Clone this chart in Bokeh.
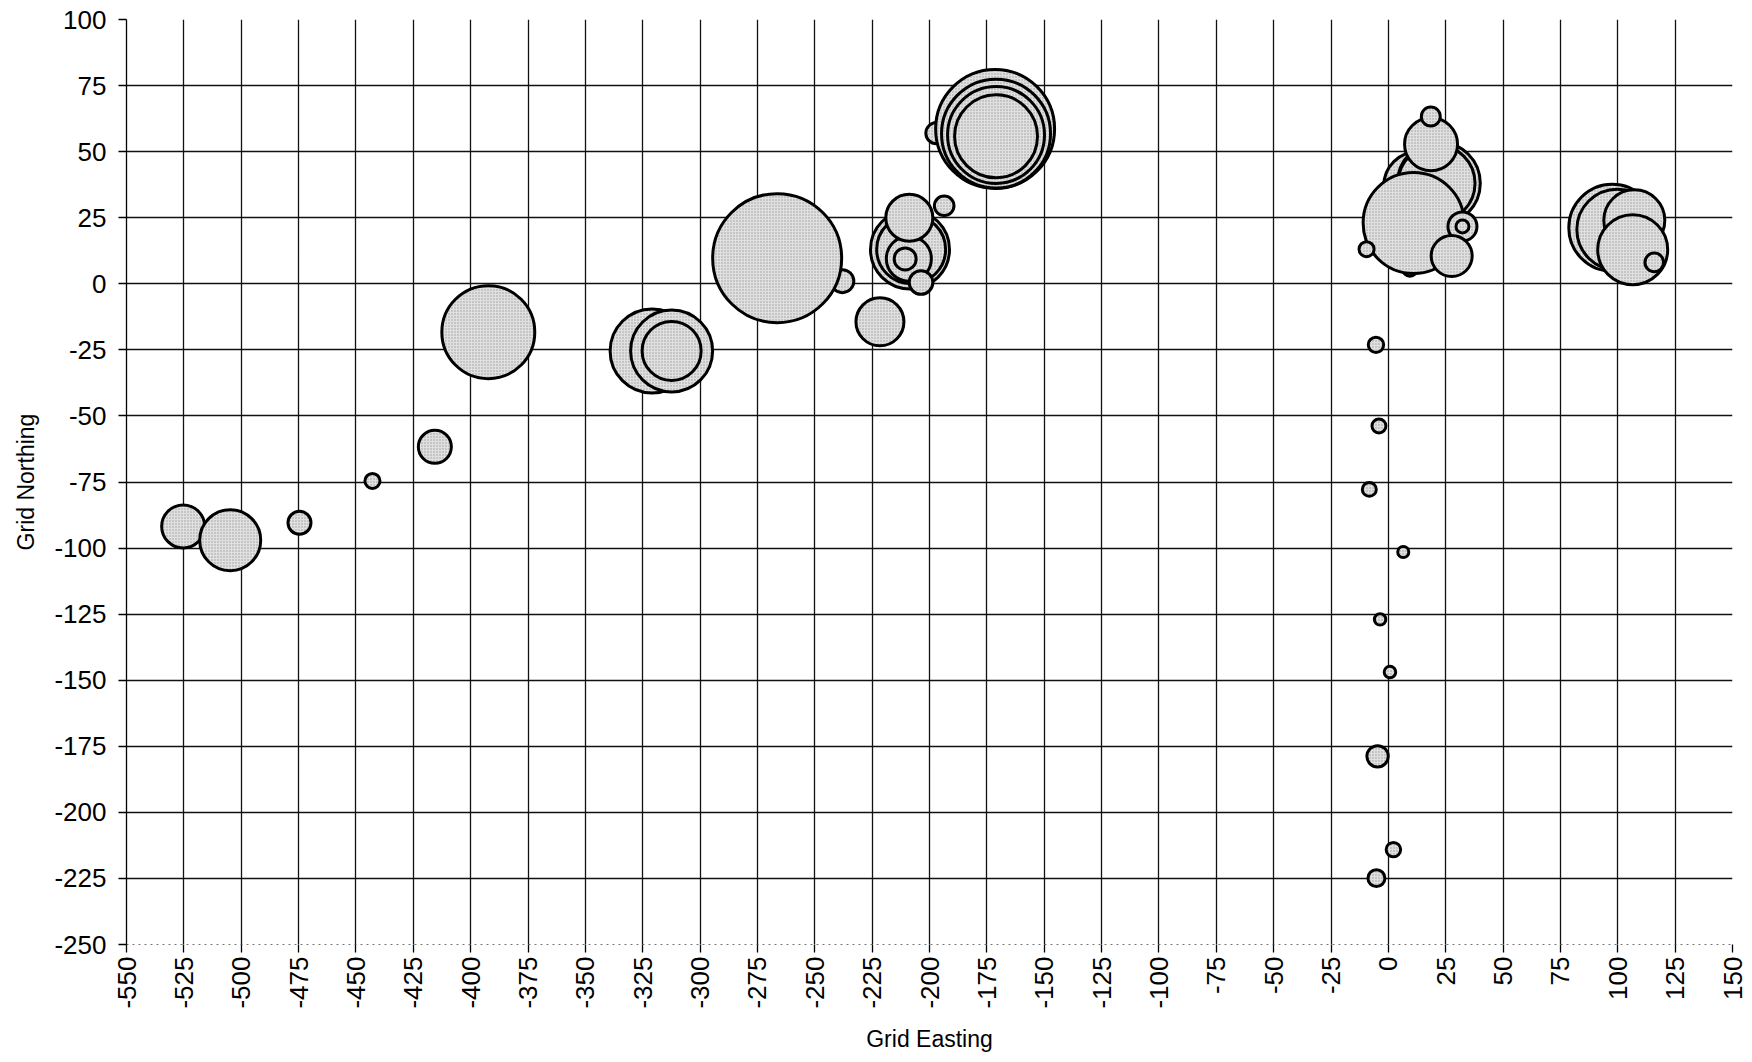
import math
from bokeh.plotting import figure
from bokeh.models import ColumnDataSource, FixedTicker
from bokeh.embed import file_html
from bokeh.resources import INLINE

# ---- data ----
grid_easting = [
    -525.3, -504.8, -474.6, -442.8, -415.6, -392.3, -320.9, -312.4, -312.4,
    -238.0, -266.4, -221.6,
    -208.5, -208.0, -209.0, -208.8, -210.6, -203.7, -193.6,
    -197.0, -171.4, -171.0, -171.0, -171.0,
    9.4, 13.0, 22.0, 21.0, 11.0, 18.6, 18.5, 32.3, 32.3, 27.6, -9.5,
    97.6, 99.8, 107.2, 106.5, 115.9,
    -5.4, -4.1, -8.3, 6.5, -3.6, 0.7, -4.7, 2.2, -5.2,
]
grid_northing = [
    -91.8, -97.0, -90.4, -74.6, -61.7, -18.3, -25.4, -25.4, -25.4,
    1.0, 9.7, -14.4,
    13.0, 13.0, 9.5, 25.0, 9.4, 0.5, 29.5,
    57.0, 58.6, 56.8, 56.3, 55.8,
    5.7, 37.0, 38.0, 38.0, 23.0, 52.8, 63.3, 21.7, 21.7, 10.5, 13.1,
    21.2, 20.5, 24.0, 12.9, 8.1,
    -23.1, -53.8, -77.8, -101.5, -127.0, -146.9, -178.8, -214.1, -224.9,
]
bubble_value = [
    51.4, 103.4, 14.7, 6.3, 30.3, 240.0, 196.0, 186.8, 96.7,
    14.7, 462.0, 64.0,
    173.4, 132.0, 56.3, 61.4, 13.4, 15.5, 10.7,
    12.3, 393.0, 330.0, 261.0, 191.0,
    6.3, 132.0, 191.0, 164.7, 283.0, 78.0, 10.0, 23.4, 4.7, 46.7, 6.3,
    210.0, 182.0, 103.4, 136.0, 9.6,
    6.6, 5.4, 5.4, 3.4, 3.6, 3.7, 12.7, 5.8, 8.0,
]

x_ticks = list(range(-550, 151, 25))
x_tick_labels = [str(v) for v in x_ticks]
y_ticks = list(range(-250, 101, 25))
y_tick_labels = [str(v) for v in y_ticks]

BUBBLE_SCALE = 6.0  # screen px of diameter per sqrt(value)

src = ColumnDataSource(dict(
    x=grid_easting,
    y=grid_northing,
    d=[BUBBLE_SCALE * math.sqrt(v) for v in bubble_value],
))

FONT = "Liberation Sans"

p = figure(
    width=1750, height=1060,
    x_range=(-550, 150), y_range=(-250, 100),
    output_backend="svg", toolbar_location=None,
    min_border_left=126, min_border_right=18,
    min_border_top=19, min_border_bottom=116,
)
p.outline_line_color = None
p.background_fill_color = "white"
p.border_fill_color = "white"

# grids
p.xgrid.ticker = FixedTicker(ticks=x_ticks)
p.ygrid.ticker = FixedTicker(ticks=[t for t in y_ticks if t != -250])
for g in (p.xgrid, p.ygrid):
    g.grid_line_color = "#111111"
    g.grid_line_width = 1.3
    g.grid_line_alpha = 1.0

# axes
p.xaxis.ticker = FixedTicker(ticks=x_ticks)
p.yaxis.ticker = FixedTicker(ticks=y_ticks)
p.xaxis.major_label_overrides = {t: l for t, l in zip(x_ticks, x_tick_labels)}
p.yaxis.major_label_overrides = {t: l for t, l in zip(y_ticks, y_tick_labels)}
p.xaxis.major_label_orientation = math.pi / 2
p.xaxis.axis_label = "Grid Easting"
p.yaxis.axis_label = "Grid Northing"
for ax in (p.xaxis, p.yaxis):
    ax.major_label_text_font = FONT
    ax.major_label_text_font_size = "26px"
    ax.major_label_text_color = "black"
    ax.axis_label_text_font = FONT
    ax.axis_label_text_font_size = "23px"
    ax.axis_label_text_font_style = "normal"
    ax.axis_label_text_color = "black"
    ax.major_tick_out = 8
    ax.major_tick_in = 0
    ax.minor_tick_out = 0
    ax.minor_tick_in = 0
    ax.major_tick_line_color = "black"
    ax.major_tick_line_width = 1.3
p.yaxis.axis_line_color = "black"
p.yaxis.axis_line_width = 1.3
p.xaxis.axis_line_color = "#777777"
p.xaxis.axis_line_width = 1.0
p.xaxis.axis_line_dash = "2 4"
p.yaxis.major_label_standoff = 12
p.xaxis.major_label_standoff = 4
p.yaxis.axis_label_standoff = 12
p.xaxis.axis_label_standoff = 14

# bubbles
p.scatter(
    "x", "y", size="d", source=src, marker="circle",
    fill_color="#e0e0e0", line_color="black", line_width=3,
    hatch_pattern="dot", hatch_color="#444444", hatch_scale=3,
    hatch_weight=1, hatch_alpha=0.45,
)

open("out.html", "w").write(file_html(p, INLINE))
